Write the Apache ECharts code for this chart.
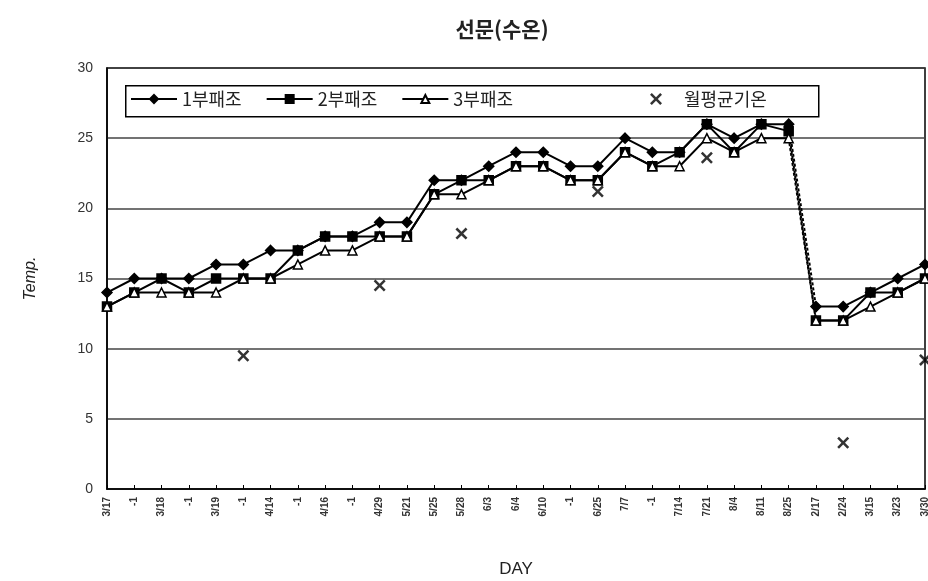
<!DOCTYPE html>
<html><head><meta charset="utf-8">
<script src="https://cdn.jsdelivr.net/npm/echarts@6/dist/echarts.min.js"></script>
<style>html,body{margin:0;padding:0;background:#fff}#c{width:928px;height:581px}</style>
</head><body><div id="c"></div>
<script>
const categories = ['3/17','-1','3/18','-1','3/19','-1','4/14','-1','4/16','-1','4/29','5/21','5/25','5/28','6/3','6/4','6/10','-1','6/25','7/7','-1','7/14','7/21','8/4','8/11','8/25','2/17','2/24','3/15','3/23','3/30'];
const tank1 = [14,15,15,15,16,16,17,17,18,18,19,19,22,22,23,24,24,23,23,25,24,24,26,25,26,26,13,13,14,15,16];
const tank2 = [13,14,15,14,15,15,15,17,18,18,18,18,21,22,22,23,23,22,22,24,23,24,26,24,26,25.5,12,12,14,14,15];
const tank3 = [13,14,14,14,14,15,15,16,17,17,18,18,21,21,22,23,23,22,22,24,23,23,25,24,25,25,12,12,13,14,15];
const airTemp = [null,null,null,null,null,9.5,null,null,null,null,14.5,null,null,18.2,null,null,null,null,21.2,null,null,null,23.6,null,null,null,null,3.3,null,null,9.2];
const names = ['1부패조','2부패조','3부패조','월평균기온'];
const breakIdx = 25;

const symbols = ['diamond','rect','triangle'];
const fills = ['#000','#000','#fff'];
const sizes = [10,9,9];
const xPath = 'path://M0,1.5 L1.5,0 L5,3.5 L8.5,0 L10,1.5 L6.5,5 L10,8.5 L8.5,10 L5,6.5 L1.5,10 L0,8.5 L3.5,5 Z';

const series = [];
[tank1,tank2,tank3].forEach((arr,k)=>{
  const common = {type:'line', symbol:symbols[k], symbolSize:sizes[k],
    itemStyle:{color:fills[k], borderColor:'#000', borderWidth:1.5},
    lineStyle:{color:'#000', width:2}, z:3+k, animation:false};
  series.push(Object.assign({}, common, {name:names[k], data:arr.map((v,i)=>i<=breakIdx?v:null)}));
  series.push(Object.assign({}, common, {name:names[k]+'b', data:arr.map((v,i)=>i>breakIdx?v:null)}));
  series.push({type:'line', name:names[k]+'c', symbol:'none', data:arr.map((v,i)=>(i===breakIdx||i===breakIdx+1)?v:null),
    lineStyle:{color:'#000', width:2, type:[3,2]}, z:2, animation:false});
});
series.push({type:'scatter', name:names[3], data:airTemp, symbol:xPath, symbolSize:12,
  itemStyle:{color:'#000'}, z:6, animation:false});

const legendText = {fontFamily:'Noto Sans CJK KR', fontSize:18, color:'#222'};
const chart = echarts.init(document.getElementById('c'));
chart.setOption({
  animation:false,
  backgroundColor:'#fff',
  title:{text:'선문(수온)', left:497, top:14, textAlign:'center',
    textStyle:{fontFamily:'Noto Sans CJK KR', fontSize:21, fontWeight:'bold', color:'#222'}},
  graphic:[{type:'rect', left:125, top:85, shape:{width:693, height:31},
    style:{fill:'#fff', stroke:'#000', lineWidth:1.5}, z:50}],
  legend:[
    {data:names.slice(0,3), left:128, top:88, itemWidth:46, itemHeight:10, itemGap:24,
     padding:[2,2,2,2], z:60, textStyle:legendText},
    {data:[names[3]], left:648, top:88, itemWidth:14, itemHeight:12, itemGap:10,
     padding:[2,2,2,2], z:60, textStyle:Object.assign({}, legendText, {padding:[0,0,0,16]})}
  ],
  grid:{left:107, right:3, top:68, bottom:92, show:true, borderColor:'#000', borderWidth:1.5, outerBoundsMode:'none'},
  xAxis:{type:'category', data:categories, boundaryGap:false,
    name:'DAY', nameLocation:'middle', nameGap:72,
    nameTextStyle:{fontFamily:'Liberation Sans', fontSize:17, color:'#222'},
    axisLine:{lineStyle:{color:'#000', width:1.5}},
    axisTick:{inside:true, length:4, alignWithLabel:true, lineStyle:{color:'#000'}},
    axisLabel:{rotate:90, interval:0, fontFamily:'Liberation Sans', fontSize:10, fontWeight:'bold', color:'#333', margin:8},
    splitLine:{show:false}},
  yAxis:{type:'value', min:0, max:30, interval:5,
    name:'Temp.', nameLocation:'middle', nameGap:68,
    nameTextStyle:{fontFamily:'Liberation Sans', fontSize:16, fontStyle:'italic', color:'#222'},
    axisLine:{show:true, lineStyle:{color:'#000', width:1.5}},
    axisTick:{show:false},
    axisLabel:{fontFamily:'Liberation Sans', fontSize:14, color:'#333', margin:14},
    splitLine:{lineStyle:{color:'#444', width:1.5}}},
  series:series
});
</script></body></html>
